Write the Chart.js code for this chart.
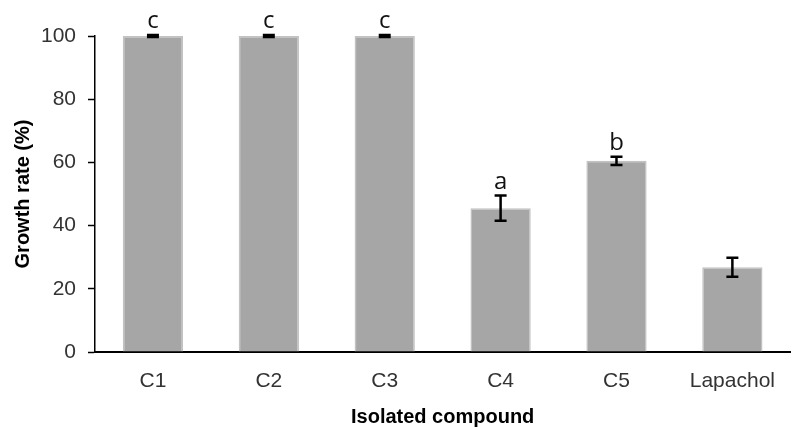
<!DOCTYPE html>
<html>
<head>
<meta charset="utf-8">
<script src="https://cdn.jsdelivr.net/npm/chart.js@4"></script>
<style>
    html, body { margin: 0; padding: 0; background: #fff; }
    #wrap { width: 792px; height: 427px; position: relative; }
</style>
</head>
<body>
<div id="wrap"><canvas id="growthChart"></canvas></div>
<script>
// chart data
const compounds = ['C1', 'C2', 'C3', 'C4', 'C5', 'Lapachol'];
const growthRate = [100, 100, 100, 45.5, 60.5, 26.8];
const errors = [0.3, 0.3, 0.3, 4, 1.3, 3];
const sigLetters = ['c', 'c', 'c', 'a', 'b', ''];
const yTicks = [0, 20, 40, 60, 80, 100];

const axisFont = "'Liberation Sans', Arial, sans-serif";

// draws the error bars and the significance letters above each bar
const errorBarPlugin = {
    id: 'errorBars',
    afterDatasetsDraw(chart) {
        const ctx = chart.ctx;
        const y = chart.scales.y;
        const meta = chart.getDatasetMeta(0);
        ctx.save();
        meta.data.forEach((bar, i) => {
            const x = bar.x;
            const hi = y.getPixelForValue(growthRate[i] + errors[i]);
            const lo = y.getPixelForValue(growthRate[i] - errors[i]);
            ctx.strokeStyle = '#000';
            ctx.lineWidth = 2.5;
            ctx.beginPath();
            ctx.moveTo(x, hi); ctx.lineTo(x, lo);
            ctx.moveTo(x - 6, hi); ctx.lineTo(x + 6, hi);
            ctx.moveTo(x - 6, lo); ctx.lineTo(x + 6, lo);
            ctx.stroke();

            if (sigLetters[i]) {
                ctx.fillStyle = '#111';
                ctx.font = "24px 'Open Sans', 'DejaVu Sans', sans-serif";
                ctx.textAlign = 'center';
                ctx.textBaseline = 'alphabetic';
                ctx.fillText(sigLetters[i], x, hi - 7);
            }
        });
        ctx.restore();
    }
};

new Chart(document.getElementById('growthChart'), {
    type: 'bar',
    data: {
        labels: compounds,
        datasets: [{
            data: growthRate,
            backgroundColor: '#a6a6a6',
            borderColor: '#c2c2c2',
            borderWidth: 1.5,
            categoryPercentage: 1,
            barPercentage: 0.52
        }]
    },
    options: {
        responsive: true,
        maintainAspectRatio: false,
        animation: false,
        layout: { padding: { top: 36, left: 0, right: 0, bottom: 0 } },
        plugins: {
            legend: { display: false },
            tooltip: { enabled: false }
        },
        scales: {
            x: {
                grid: { display: false, drawTicks: false },
                border: { display: true, color: '#000', width: 2 },
                ticks: {
                    color: '#333',
                    padding: 17,
                    font: { family: axisFont, size: 21 }
                },
                title: {
                    display: true,
                    text: 'Isolated compound',
                    color: '#000',
                    padding: { top: 0, bottom: 0 },
                    font: { family: axisFont, size: 20, weight: 'bold', lineHeight: 1.0 }
                },
                afterFit(scale) { scale.height = 75; }
            },
            y: {
                min: 0,
                max: 100,
                afterBuildTicks(scale) { scale.ticks = yTicks.map(v => ({ value: v })); },
                grid: { drawOnChartArea: false, drawTicks: true, tickLength: 7, color: '#000', tickWidth: 1.5 },
                border: { display: true, color: '#000', width: 1.5 },
                ticks: {
                    color: '#333',
                    padding: 12,
                    font: { family: axisFont, size: 21 }
                },
                title: {
                    display: true,
                    text: 'Growth rate (%)',
                    color: '#000',
                    padding: { top: 13, bottom: 0 },
                    font: { family: axisFont, size: 20, weight: 'bold', lineHeight: 1.0 }
                },
                afterFit(scale) { scale.width = 95; }
            }
        }
    },
    plugins: [errorBarPlugin]
});
</script>
</body>
</html>
